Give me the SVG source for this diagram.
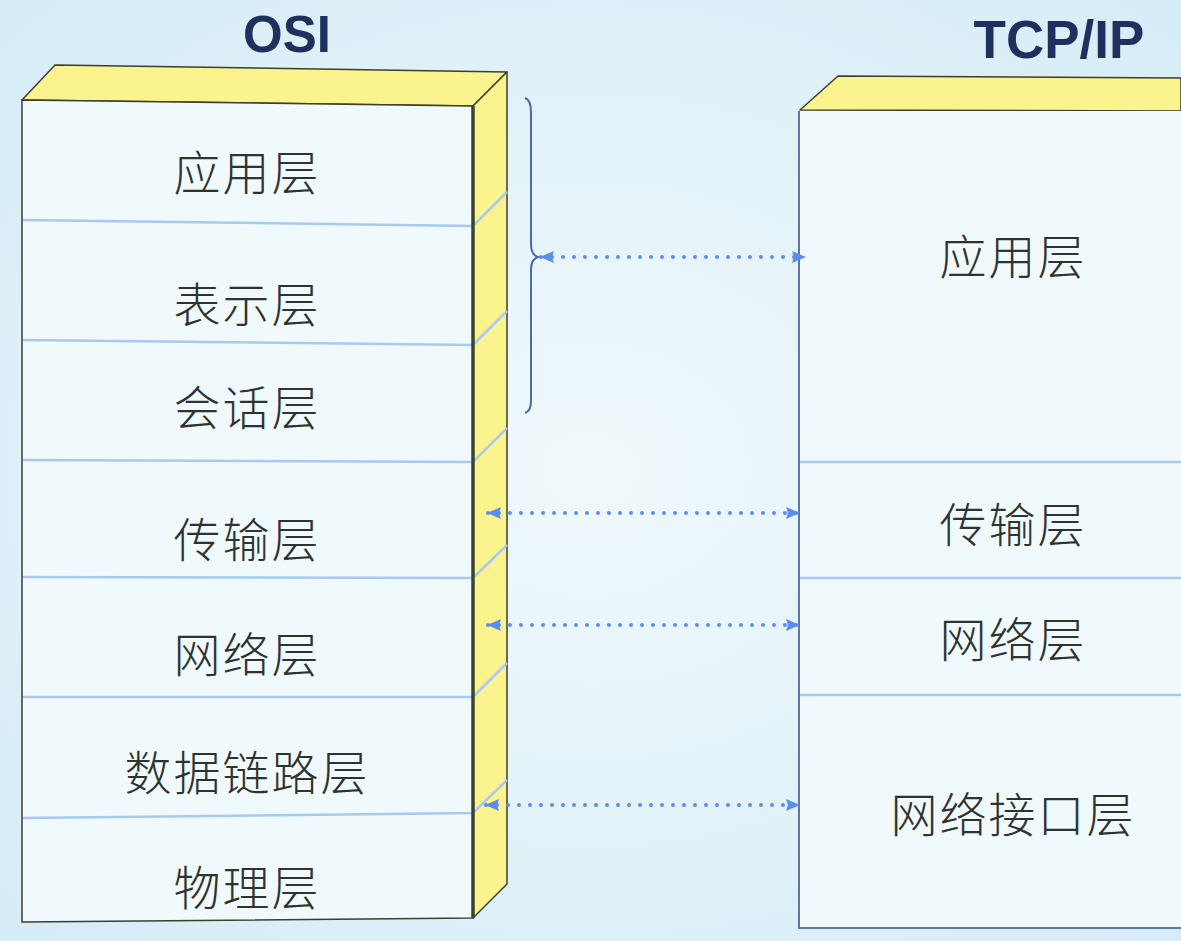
<svg xmlns="http://www.w3.org/2000/svg" width="1181" height="941" viewBox="0 0 1181 941">
<defs>
<radialGradient id="bg" cx="0.5" cy="0.5" r="0.75">
<stop offset="0" stop-color="#f0f9fc"/>
<stop offset="1" stop-color="#d4ebf6"/>
</radialGradient>
<marker id="ah" viewBox="0 0 14 12" refX="13" refY="6" markerWidth="14" markerHeight="12" markerUnits="userSpaceOnUse" orient="auto-start-reverse">
<path d="M0,0 L14,6 L0,12 L2,6 Z" fill="#5b8cf0"/>
</marker>
<style>
.face{fill:#f0fafc;}
.yel{fill:#fbf48e;stroke:#3d3f2c;stroke-width:1.5;stroke-linejoin:round;}
.lay{stroke:#a9c9f1;stroke-width:2.5;fill:none;}
.cn{font-family:"Noto Sans CJK SC","Noto Sans CJK TC",sans-serif;font-size:47px;fill:#2e3330;text-anchor:middle;font-weight:300;letter-spacing:2px;}
.ttl{font-family:"Liberation Sans",Arial,sans-serif;font-weight:bold;fill:#1f2f5e;text-anchor:middle;}
.arr{stroke:#5b8cf0;stroke-width:4;stroke-dasharray:0 11;stroke-linecap:round;fill:none;}
</style>
</defs>
<rect x="0" y="0" width="1181" height="941" fill="url(#bg)"/>

<g id="titles">
<text class="ttl" x="287" y="52" font-size="51">OSI</text>
<text class="ttl" x="1059" y="58" font-size="53">TCP/IP</text>
</g>

<g id="osi">
<polygon class="yel" points="22,100 55,65 507,72 473,106"/>
<polygon class="yel" points="473,106 507,72 507,884 473,918"/>
<polygon class="face" points="22,100 473,106 473,918 22,922"/>
<polyline class="lay" points="22,220 473,226 507,192"/>
<polyline class="lay" points="22,340 473,345 507,311"/>
<polyline class="lay" points="22,460 473,462 507,428"/>
<polyline class="lay" points="22,577 473,578 507,545"/>
<polyline class="lay" points="22,697 473,697 507,663"/>
<polyline class="lay" points="22,818 473,813 507,780"/>
<polygon points="22,100 473,106 473,918 22,922" fill="none" stroke="#3d3f2c" stroke-width="1.5"/>
<line x1="473" y1="106" x2="473" y2="918" stroke="#3a4428" stroke-width="3.5"/>
<text class="cn" x="247" y="190">应用层</text>
<text class="cn" x="247" y="322">表示层</text>
<text class="cn" x="247" y="425">会话层</text>
<text class="cn" x="247" y="557">传输层</text>
<text class="cn" x="247" y="672">网络层</text>
<text class="cn" x="247" y="790">数据链路层</text>
<text class="cn" x="247" y="905">物理层</text>
</g>

<g id="tcpip">
<polygon class="yel" points="800,110 838,76 1181,78 1181,111"/>
<rect class="face" x="800" y="111" width="381" height="817"/>
<line class="lay" x1="800" y1="462" x2="1181" y2="462"/>
<line class="lay" x1="800" y1="578" x2="1181" y2="578"/>
<line class="lay" x1="800" y1="695" x2="1181" y2="695"/>
<polyline points="799,111 799,928 1181,928" fill="none" stroke="#5d76a8" stroke-width="2"/>
<text class="cn" x="1013" y="274">应用层</text>
<text class="cn" x="1013" y="542">传输层</text>
<text class="cn" x="1013" y="657">网络层</text>
<text class="cn" x="1013" y="832">网络接口层</text>
</g>

<g id="brace">
<path d="M525,98 Q531,100 531,112 L531,244 Q531,255 538,257 Q531,259 531,270 L531,401 Q531,411 525,413" fill="none" stroke="#4d6aa6" stroke-width="2"/>
</g>

<g id="connectors">
<line class="arr" x1="541" y1="257" x2="805" y2="257" marker-start="url(#ah)" marker-end="url(#ah)"/>
<line class="arr" x1="488" y1="513" x2="799" y2="513" marker-start="url(#ah)" marker-end="url(#ah)"/>
<line class="arr" x1="488" y1="625" x2="799" y2="625" marker-start="url(#ah)" marker-end="url(#ah)"/>
<line class="arr" x1="486" y1="805" x2="799" y2="805" marker-start="url(#ah)" marker-end="url(#ah)"/>
</g>
</svg>
